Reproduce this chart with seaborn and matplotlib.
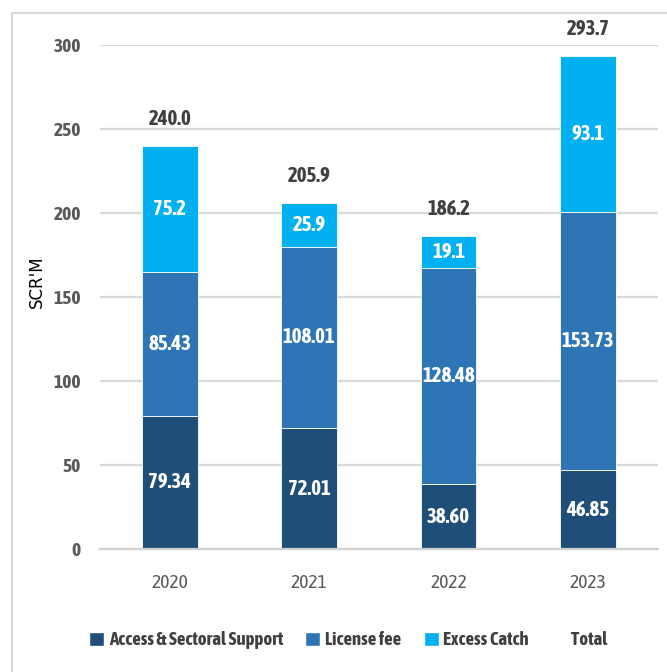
import matplotlib
matplotlib.use("Agg")
import matplotlib.pyplot as plt
from matplotlib.patches import Patch
from matplotlib.lines import Line2D
from matplotlib import font_manager
import seaborn as sns
import pandas as pd
import numpy as np

years = ["2020", "2021", "2022", "2023"]
access = [79.34, 72.01, 38.60, 46.85]
license_fee = [85.43, 108.01, 128.48, 153.73]
excess = [75.2, 25.9, 19.1, 93.1]
series_names = ["Access & Sectoral Support", "License fee", "Excess Catch", "Total"]

colors = ["#1F4E79", "#2E75B6", "#00B0F0"]

sns.set_theme(style="white")

# condensed face with a bold weight, if there is one
fonts = font_manager.fontManager.ttflist
narrow_bold = [f for f in fonts if ("Narrow" in f.name or "Condensed" in f.name)
               and f.weight in (600, 700, 800, "bold", "semibold")]
narrow = narrow_bold[0].name if narrow_bold else "Liberation Sans"
big = 15 if narrow_bold else 13.5
plt.rcParams["font.family"] = [narrow, "DejaVu Sans"]

df = pd.DataFrame({"year": years, "access": access, "license": license_fee, "excess": excess})
df["b2"] = df["access"]
df["b3"] = df["access"] + df["license"]
df["total"] = df["b3"] + df["excess"]

fig = plt.figure(figsize=(6.67, 6.72), dpi=100)
ax = fig.add_axes([0.150, 0.183, 0.836, 0.750])

bar_kw = dict(width=0.4, ax=ax, saturation=1, edgecolor="white", linewidth=0.6)
sns.barplot(data=df, x="year", y="access", color=colors[0], **bar_kw)
sns.barplot(data=df, x="year", y="license", bottom=df["b2"], color=colors[1], **bar_kw)
sns.barplot(data=df, x="year", y="excess", bottom=df["b3"], color=colors[2], **bar_kw)

lbl = dict(ha="center", va="center", color="white", fontsize=big, fontweight="bold")
for i, row in df.iterrows():
    ax.text(i, row["access"] / 2, f"{row['access']:.2f}", **lbl)
    ax.text(i, row["b2"] + row["license"] / 2, f"{row['license']:.2f}", **lbl)
    ax.text(i, row["b3"] + row["excess"] / 2, f"{row['excess']:.1f}", **lbl)
    ax.text(i, row["total"] + 16, f"{row['total']:.1f}", ha="center", va="center",
            color="#404040", fontsize=big, fontweight="bold", clip_on=False)

ax.set_ylim(0, 300)
ax.set_xlim(-0.5, 3.5)
ax.set_yticks(np.arange(0, 301, 50))
ax.yaxis.grid(True, color="#D9D9D9", linewidth=1.6)
ax.set_axisbelow(True)
for s in ["top", "right", "left"]:
    ax.spines[s].set_visible(False)
ax.spines["bottom"].set_color("#D0D0D0")
ax.spines["bottom"].set_linewidth(1.6)
ax.tick_params(axis="y", length=0, pad=14)
ax.tick_params(axis="x", length=0, pad=18)
for t in ax.get_yticklabels():
    t.set_fontsize(big - 1)
    t.set_fontweight("bold")
    t.set_color("#595959")
for t in ax.get_xticklabels():
    t.set_fontsize(big - 1)
    t.set_color("#595959")
ax.set_xlabel("")
ax.set_ylabel("SCR'M", family="DejaVu Sans", fontsize=12, color="black")
ax.yaxis.set_label_coords(-0.097, 0.53)

handles = [Patch(facecolor=c) for c in colors] + [Line2D([], [], linestyle="none")]
fig.legend(handles, series_names, loc="center", bbox_to_anchor=(0.522, 0.047), ncol=4,
           frameon=False, handlelength=0.8, handleheight=0.8, handletextpad=0.25,
           columnspacing=1.2, prop={"family": narrow, "size": big - 1.5, "weight": "bold"},
           labelcolor="#404040")

fig.add_artist(Line2D([0.018, 1.0], [0.981, 0.981], color="#D9D9D9", linewidth=1.5))
fig.add_artist(Line2D([0.018, 0.018], [0.0, 0.981], color="#D9D9D9", linewidth=1.5))

fig.savefig("out.png", dpi=100)
